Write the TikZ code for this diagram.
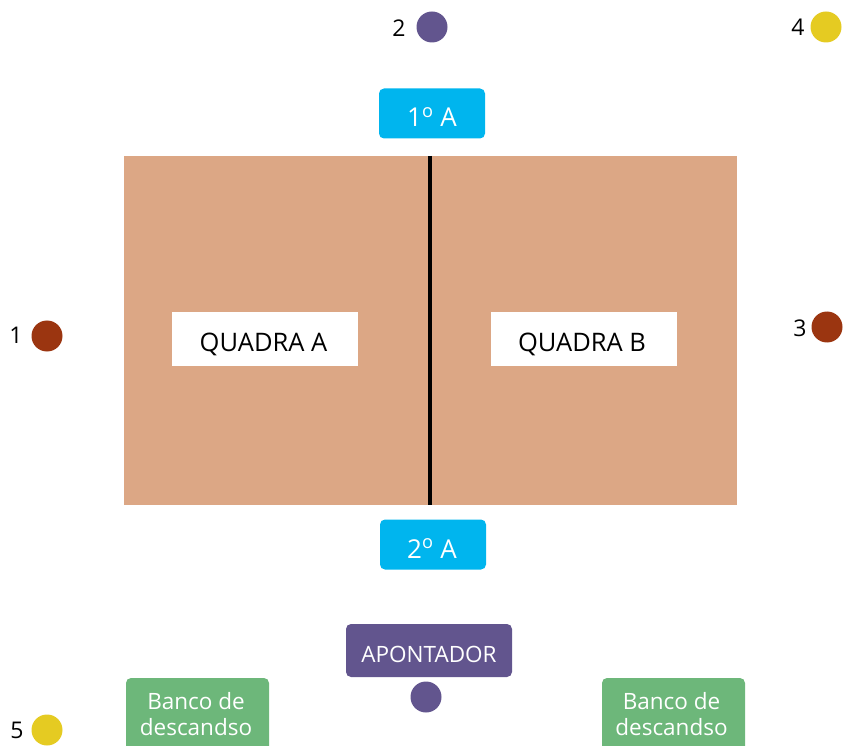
\documentclass[tikz,border=0pt]{standalone}
\usepackage{fontspec}
\setmainfont{Open Sans}
\definecolor{court}{HTML}{DCA785}
\definecolor{cyanbox}{HTML}{00B5EE}
\definecolor{purp}{HTML}{62558E}
\definecolor{brownd}{HTML}{9B3510}
\definecolor{yell}{HTML}{E5CB22}
\definecolor{greenb}{HTML}{6DB77A}
\tikzset{
  dot/.style={circle,inner sep=0pt,minimum size=31pt},
  num/.style={anchor=base,inner sep=0pt,font=\fontsize{23}{25}\selectfont,text=black},
  cyanbox/.style={rounded corners=5pt,fill=cyanbox,minimum width=106pt,minimum height=50pt,inner sep=0pt},
  cyantext/.style={anchor=base,inner sep=0pt,text=white,font=\fontsize{26}{28}\selectfont},
  quadrabox/.style={fill=white,minimum width=186pt,minimum height=54pt,inner sep=0pt},
  quadratext/.style={anchor=base,inner sep=0pt,text=black,font=\fontsize{25.5}{27}\selectfont},
  benchbox/.style={rounded corners=5pt,fill=greenb,minimum width=143pt,minimum height=90pt,inner sep=0pt},
  benchtext/.style={anchor=base,inner sep=0pt,text=white,font=\fontsize{22.5}{26}\selectfont},
}
\begin{document}
\begin{tikzpicture}[x=1pt,y=-1pt]
\useasboundingbox (0,0) rectangle (844,746);
\clip (0,0) rectangle (844,746);
% court
\node[fill=court,minimum width=613pt,minimum height=349pt,inner sep=0pt] (court) at (430.5,330.5) {};
\coordinate (nettop) at (430,156);
\coordinate (netbot) at (430,505);
\draw[line width=4pt,black] (nettop) -- (netbot);
\node[quadrabox] (qa) at (264.5,339) {};
\node[quadratext] (qat) at (263.5,352) {QUADRA A};
\node[quadrabox] (qb) at (584,339) {};
\node[quadratext] (qbt) at (582,352) {QUADRA B};
% labels
\node[cyanbox] (a1) at (432,113.5) {};
\node[cyantext] (a1t) at (432,127) {1\textsuperscript{o} A};
\node[cyanbox] (a2) at (433,544.5) {};
\node[cyantext] (a2t) at (432,558) {2\textsuperscript{o} A};
\node[rounded corners=5pt,fill=purp,minimum width=166pt,minimum height=53pt,inner sep=0pt] (apont) at (429,650.5) {};
\node[anchor=base,inner sep=0pt,text=white,font=\fontsize{22.5}{24}\selectfont] (apontt) at (429,662) {APONTADOR};
\node[dot,fill=purp] (papont) at (426,697) {};
% benches
\node[benchbox] (b1) at (197.5,723) {};
\node[benchtext] (b1a) at (196,709) {Banco de};
\node[benchtext] (b1b) at (196,735) {descandso};
\node[benchbox] (b2) at (673.5,723) {};
\node[benchtext] (b2a) at (671.5,709) {Banco de};
\node[benchtext] (b2b) at (671.5,735) {descandso};
% players
\node[dot,fill=brownd] (p1) at (47,336) {};
\node[num] (n1) at (16,343) {1};
\node[dot,fill=purp] (p2) at (432,27) {};
\node[num] (n2) at (399,37) {2};
\node[dot,fill=brownd] (p3) at (827,327) {};
\node[num] (n3) at (800,336) {3};
\node[dot,fill=yell] (p4) at (826,27) {};
\node[num] (n4) at (798,36) {4};
\node[dot,fill=yell] (p5) at (47,730) {};
\node[num] (n5) at (17,738) {5};
\end{tikzpicture}
\end{document}
